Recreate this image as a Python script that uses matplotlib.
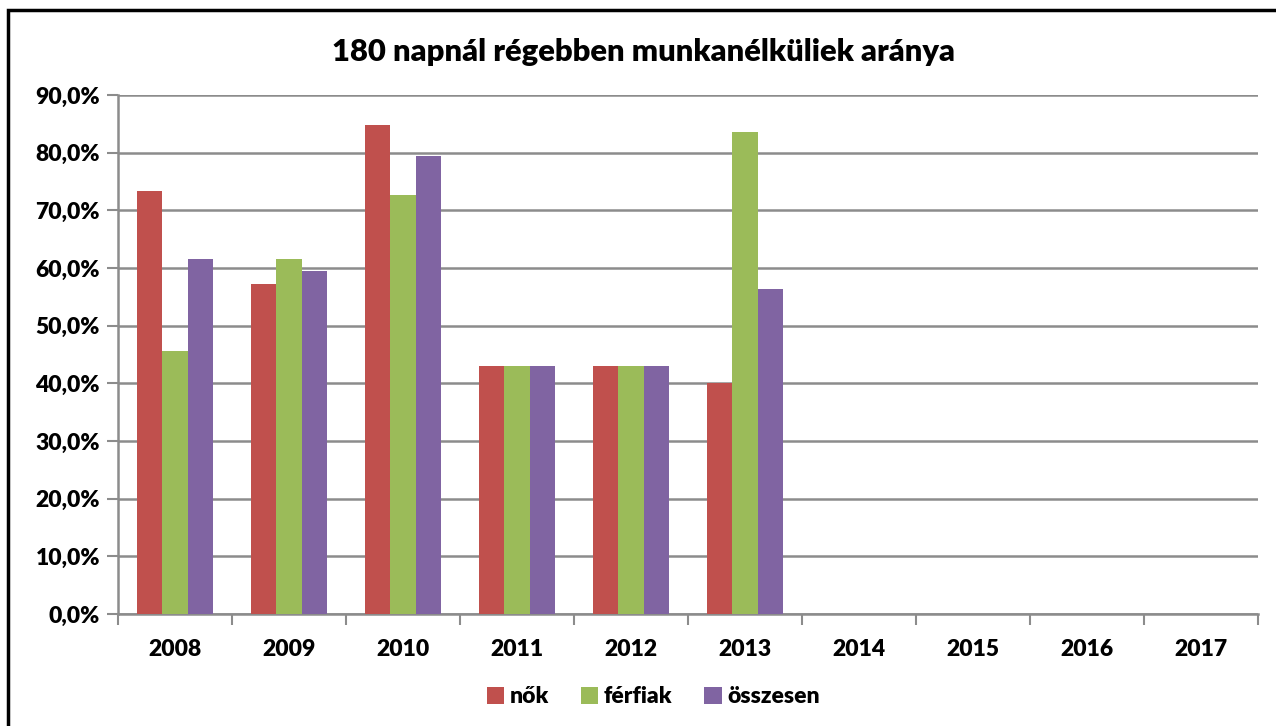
import numpy as np
import matplotlib
matplotlib.use("Agg")
import matplotlib.pyplot as plt
from matplotlib.ticker import FuncFormatter, FixedLocator
from matplotlib.patches import Rectangle

plt.rcParams['font.family'] = ['Lato', 'DejaVu Sans']

# %% data
years = ['2008', '2009', '2010', '2011', '2012', '2013', '2014', '2015', '2016', '2017']
nok = [73.4, 57.2, 84.8, 43.0, 43.0, 40.1, np.nan, np.nan, np.nan, np.nan]
ferfiak = [45.6, 61.6, 72.7, 43.0, 43.0, 83.5, np.nan, np.nan, np.nan, np.nan]
osszesen = [61.6, 59.5, 79.4, 43.0, 43.0, 56.3, np.nan, np.nan, np.nan, np.nan]
series_names = ['nők', 'férfiak', 'összesen']
colors = ['#C0504D', '#9BBB59', '#8064A2']

# %% plot
fig = plt.figure(figsize=(12.76, 7.26), dpi=100)
ax = fig.add_axes([0.0925, 0.1543, 0.8935, 0.7149])

x = np.arange(len(years))
w = 1 / 4.5
for i, (vals, name, c) in enumerate(zip([nok, ferfiak, osszesen], series_names, colors)):
    ax.bar(x + (i - 1) * w, vals, width=w, color=c, label=name, zorder=3)

ax.set_xlim(-0.5, len(years) - 0.5)
ax.set_ylim(0, 90)
ax.set_yticks(np.arange(0, 91, 10))
ax.yaxis.set_major_formatter(FuncFormatter(lambda v, p: f'{v:.1f}%'.replace('.', ',')))
ax.grid(axis='y', color='#8c8c8c', linewidth=1.8, zorder=0)

# category labels centered, ticks on the boundaries
ax.xaxis.set_major_locator(FixedLocator(np.arange(-0.5, len(years), 1)))
ax.xaxis.set_minor_locator(FixedLocator(x))
ax.set_xticklabels([])
ax.set_xticklabels(years, minor=True)
ax.tick_params(axis='x', which='minor', length=0, pad=18)
ax.tick_params(axis='x', which='major', length=8, width=1.5, color='#8c8c8c')
ax.tick_params(axis='y', length=8, width=1.5, color='#8c8c8c', pad=5)
for lab in ax.get_xticklabels(minor=True) + ax.get_yticklabels():
    lab.set_fontsize(16.5)
    lab.set_fontweight('heavy')

for s in ['top', 'right']:
    ax.spines[s].set_visible(False)
for s in ['left', 'bottom']:
    ax.spines[s].set_color('#8c8c8c')
    ax.spines[s].set_linewidth(1.8)

fig.text(0.504, 0.928, '180 napnál régebben munkanélküliek aránya', ha='center', va='center',
         fontsize=22.3, fontweight='heavy')

leg = fig.legend(loc='center', bbox_to_anchor=(0.512, 0.04), ncol=3, frameon=False,
                 handlelength=0.75, handleheight=0.75, handletextpad=0.25, columnspacing=1.4,
                 prop={'size': 16.5, 'weight': 'heavy'})

# chart border
fig.patches.append(Rectangle((8 / 1276, -0.1), 1.2, 1.1 - 10 / 726, transform=fig.transFigure,
                             fill=False, edgecolor='black', linewidth=2.5))

fig.savefig('out.png', dpi=100)
